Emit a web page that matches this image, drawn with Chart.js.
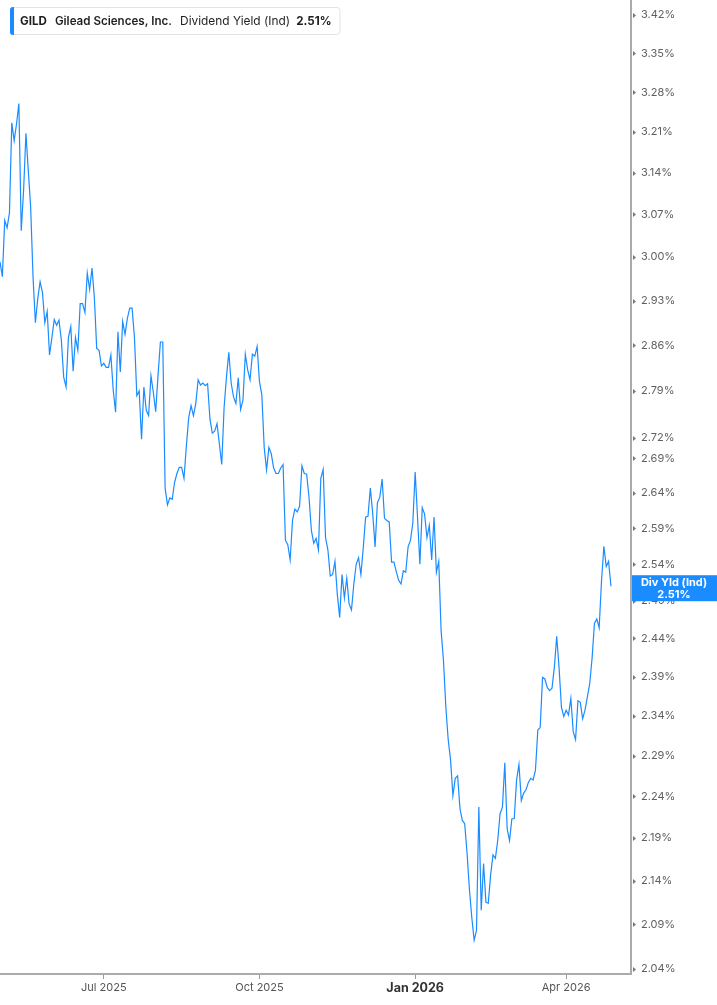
<!DOCTYPE html>
<html>
<head>
<meta charset="utf-8">
<title>GILD Dividend Yield</title>
<script src="https://cdn.jsdelivr.net/npm/chart.js@4.4.1/dist/chart.umd.min.js"></script>
<style>
    html, body { margin: 0; padding: 0; background: #fff; }
    #wrap { position: relative; width: 717px; height: 1005px; }
</style>
</head>
<body>
<div id="wrap"><canvas id="yieldChart"></canvas></div>
<script>
// one value per weekday, starting from this date
const startDate = '2025-04-30';

// Dividend yield (%)
const yieldValues = [
    2.992, 2.968, 3.060, 3.048, 3.072, 3.226, 3.195, 3.224, 3.260, 3.043,
    3.110, 3.208, 3.143, 3.082, 2.968, 2.895, 2.933, 2.960, 2.943, 2.895,
    2.913, 2.845, 2.872, 2.900, 2.891, 2.899, 2.868, 2.811, 2.796, 2.872,
    2.889, 2.820, 2.872, 2.852, 2.925, 2.925, 2.911, 2.974, 2.948, 2.982,
    2.935, 2.855, 2.852, 2.828, 2.832, 2.826, 2.826, 2.845, 2.791, 2.758,
    2.881, 2.819, 2.897, 2.877, 2.902, 2.918, 2.918, 2.872, 2.783, 2.790,
    2.718, 2.796, 2.761, 2.753, 2.813, 2.788, 2.759, 2.814, 2.865, 2.865,
    2.647, 2.623, 2.633, 2.631, 2.655, 2.668, 2.677, 2.677, 2.661, 2.708,
    2.750, 2.768, 2.753, 2.771, 2.807, 2.799, 2.802, 2.798, 2.801, 2.748,
    2.727, 2.730, 2.741, 2.711, 2.681, 2.765, 2.811, 2.849, 2.802, 2.781,
    2.771, 2.810, 2.762, 2.776, 2.846, 2.822, 2.807, 2.846, 2.843, 2.858,
    2.804, 2.784, 2.706, 2.673, 2.706, 2.697, 2.676, 2.668, 2.668, 2.676,
    2.681, 2.573, 2.567, 2.546, 2.601, 2.617, 2.613, 2.621, 2.679, 2.668,
    2.667, 2.634, 2.587, 2.569, 2.576, 2.560, 2.661, 2.674, 2.577, 2.560,
    2.524, 2.526, 2.544, 2.499, 2.468, 2.526, 2.494, 2.521, 2.486, 2.478,
    2.513, 2.540, 2.549, 2.526, 2.563, 2.606, 2.607, 2.647, 2.611, 2.564,
    2.626, 2.634, 2.660, 2.604, 2.601, 2.599, 2.543, 2.543, 2.530, 2.518,
    2.513, 2.531, 2.529, 2.564, 2.573, 2.597, 2.670, 2.606, 2.540, 2.619,
    2.610, 2.577, 2.594, 2.546, 2.606, 2.529, 2.544, 2.450, 2.411, 2.351,
    2.310, 2.285, 2.241, 2.262, 2.265, 2.225, 2.211, 2.207, 2.172, 2.130,
    2.098, 2.072, 2.083, 2.227, 2.106, 2.160, 2.115, 2.114, 2.147, 2.170,
    2.166, 2.187, 2.219, 2.227, 2.281, 2.201, 2.187, 2.213, 2.213, 2.260,
    2.279, 2.235, 2.244, 2.248, 2.257, 2.262, 2.260, 2.272, 2.322, 2.325,
    2.389, 2.387, 2.376, 2.372, 2.375, 2.402, 2.443, 2.402, 2.351, 2.339,
    2.347, 2.341, 2.362, 2.320, 2.310, 2.359, 2.357, 2.336, 2.347, 2.364,
    2.381, 2.414, 2.460, 2.466, 2.454, 2.517, 2.565, 2.537, 2.544, 2.510
];

// right axis tick values (%)
const yTicks = [
    3.42, 3.35, 3.28, 3.21, 3.14, 3.07, 3.00, 2.93, 2.86, 2.79, 2.72, 2.69,
    2.64, 2.59, 2.54, 2.49, 2.44, 2.39, 2.34, 2.29, 2.24, 2.19, 2.14, 2.09, 2.04
];

// months that get an x tick (quarter starts) and their names
const tickMonths = [0, 3, 6, 9];
const monthNames = ['Jan', 'Feb', 'Mar', 'Apr', 'May', 'Jun', 'Jul', 'Aug', 'Sep', 'Oct', 'Nov', 'Dec'];

const ticker = 'GILD';
const companyName = 'Gilead Sciences, Inc.';
const metricName = 'Dividend Yield (Ind)';
const shortMetric = 'Div Yld (Ind)';
const lastLabel = yieldValues[yieldValues.length - 1].toFixed(2) + '%';

const lineColor = '#1a8cff';
const axisColor = '#ababab';

// Build the weekday dates the values belong to
function buildDates(start, count) {
    const parts = start.split('-').map(Number);
    let d = new Date(Date.UTC(parts[0], parts[1] - 1, parts[2]));
    const out = [];
    while (out.length < count) {
        const wd = d.getUTCDay();
        if (wd !== 0 && wd !== 6) out.push(new Date(d));
        d.setUTCDate(d.getUTCDate() + 1);
    }
    return out;
}

const dates = buildDates(startDate, yieldValues.length);

// first weekday of each quarter month becomes an x tick
const quarterTicks = [];
for (let i = 1; i < dates.length; i++) {
    const m = dates[i].getUTCMonth();
    if (m !== dates[i - 1].getUTCMonth() && tickMonths.includes(m)) quarterTicks.push(i);
}

function dateLabel(i) {
    const d = dates[Math.round(i)];
    return monthNames[d.getUTCMonth()] + ' ' + d.getUTCFullYear();
}

// Title box in the top left corner
const headerPlugin = {
    id: 'header',
    afterDraw(chart) {
        const ctx = chart.ctx;
        const pieces = [
            { text: ticker, font: '700 11.6px Inter', gap: 8 },
            { text: companyName, font: '600 11.6px Inter', gap: 8 },
            { text: metricName, font: '400 11.9px Inter', gap: 6 },
            { text: lastLabel, font: '700 11.6px Inter', gap: 0 }
        ];
        ctx.save();
        const widths = pieces.map(p => { ctx.font = p.font; return ctx.measureText(p.text).width; });
        const total = pieces.reduce((a, p, i) => a + widths[i] + p.gap, 0);
        const boxX = 10, boxY = 7, boxW = total + 18, boxH = 27;

        ctx.fillStyle = '#fff';
        ctx.strokeStyle = '#e3e3e3';
        ctx.lineWidth = 1;
        ctx.beginPath();
        ctx.roundRect(boxX + 0.5, boxY + 0.5, boxW, boxH, 3);
        ctx.fill();
        ctx.stroke();

        ctx.fillStyle = lineColor;
        ctx.beginPath();
        ctx.roundRect(boxX, boxY, 4, boxH + 1, [3, 0, 0, 3]);
        ctx.fill();

        ctx.textBaseline = 'middle';
        ctx.fillStyle = '#1f1f1f';
        let x = 20;
        pieces.forEach((p, i) => {
            ctx.font = p.font;
            ctx.fillText(p.text, x, boxY + boxH / 2 + 1);
            x += widths[i] + p.gap;
        });
        ctx.restore();
    }
};

// Blue value tag on the right axis plus the small tick markers
const axisTagPlugin = {
    id: 'axisTag',
    afterDraw(chart) {
        const ctx = chart.ctx;
        const yScale = chart.scales.y;
        const area = chart.chartArea;
        ctx.save();

        // little triangles next to each y tick
        ctx.fillStyle = '#777';
        yScale.ticks.forEach(t => {
            const y = Math.round(yScale.getPixelForValue(t.value)) + 0.5;
            ctx.beginPath();
            ctx.moveTo(area.right + 2, y - 2.5);
            ctx.lineTo(area.right + 5, y);
            ctx.lineTo(area.right + 2, y + 2.5);
            ctx.closePath();
            ctx.fill();
        });

        const last = yieldValues[yieldValues.length - 1];
        const cy = yScale.getPixelForValue(last) + 2;
        const h = 26;
        ctx.fillStyle = lineColor;
        ctx.fillRect(area.right + 1, cy - h / 2, chart.width - area.right - 1, h);
        ctx.fillStyle = '#fff';
        ctx.font = '700 11px Inter';
        ctx.textAlign = 'center';
        ctx.textBaseline = 'middle';
        const cx = (area.right + chart.width) / 2;
        ctx.fillText(shortMetric, cx, cy - 6);
        ctx.fillText(lastLabel, cx, cy + 6);
        ctx.restore();
    }
};

const ctx = document.getElementById('yieldChart').getContext('2d');
const yieldChart = new Chart(ctx, {
    type: 'line',
    data: {
        datasets: [{
            label: metricName,
            data: yieldValues.map((v, i) => ({ x: i, y: v })),
            borderColor: lineColor,
            borderWidth: 1.2,
            pointRadius: 0,
            tension: 0,
            fill: false
        }]
    },
    options: {
        responsive: true,
        maintainAspectRatio: false,
        animation: false,
        layout: { padding: 0 },
        plugins: {
            legend: { display: false },
            tooltip: { enabled: false }
        },
        scales: {
            x: {
                type: 'linear',
                min: 0,
                max: yieldValues.length - 1 + 8.5,
                afterBuildTicks: (scale) => {
                    scale.ticks = quarterTicks.map(i => ({ value: i }));
                },
                afterFit: (scale) => {
                    scale.height = 31;
                    scale.paddingLeft = 0;
                    scale.paddingRight = 0;
                },
                grid: {
                    drawOnChartArea: false,
                    drawTicks: true,
                    tickLength: 5,
                    color: '#9a9a9a'
                },
                border: { color: axisColor, width: 2 },
                ticks: {
                    autoSkip: false,
                    maxRotation: 0,
                    padding: 2,
                    color: (c) => (c.tick && dates[c.tick.value].getUTCMonth() === 0) ? '#333' : '#555',
                    font: (c) => (c.tick && dates[c.tick.value].getUTCMonth() === 0)
                        ? { family: 'Inter', size: 12.5, weight: '700' }
                        : { family: 'Inter', size: 11, weight: '400' },
                    callback: (v) => dateLabel(v)
                }
            },
            y: {
                type: 'logarithmic',
                position: 'right',
                min: 2.0345,
                max: 3.448,
                afterBuildTicks: (scale) => {
                    scale.ticks = yTicks.map(v => ({ value: v }));
                },
                afterFit: (scale) => {
                    scale.width = 86;
                    scale.paddingTop = 0;
                    scale.paddingBottom = 0;
                },
                grid: { drawOnChartArea: false, drawTicks: false },
                border: { color: axisColor, width: 2 },
                ticks: {
                    autoSkip: false,
                    padding: 10,
                    color: '#5f5f5f',
                    font: { family: 'Inter', size: 11 },
                    callback: (v) => Number(v).toFixed(2) + '%'
                }
            }
        }
    },
    plugins: [headerPlugin, axisTagPlugin]
});
</script>
</body>
</html>
